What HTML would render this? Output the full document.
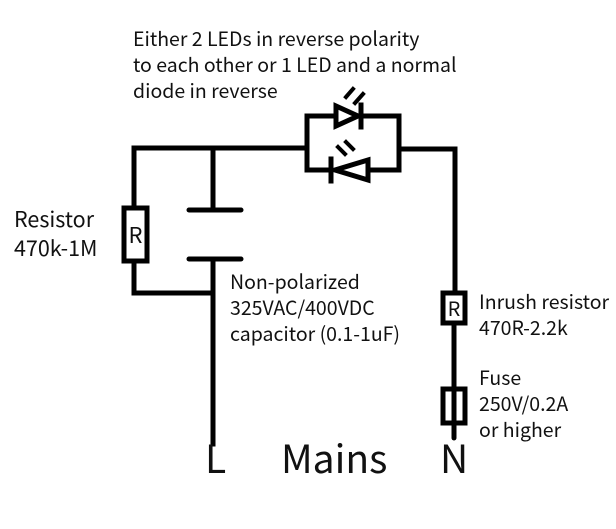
<!DOCTYPE html>
<html><head><meta charset="utf-8"><style>
html,body{margin:0;padding:0;background:#fff;width:616px;height:529px;overflow:hidden}
svg{display:block}
text{font-family:"Noto Sans CJK SC","Liberation Sans",sans-serif;fill:#111}
</style></head><body>
<svg width="616" height="529" viewBox="0 0 616 529">
<g fill="none" stroke="#000" stroke-width="5" stroke-linecap="square">
<polyline points="307,148 134,148 134,208"/>
<polyline points="134,261 134,293 213,293"/>
<rect x="124" y="208" width="23" height="53" fill="#fff"/>
<line x1="213" y1="148" x2="213" y2="210"/>
<line x1="189" y1="210" x2="241" y2="210" stroke-linecap="round"/>
<line x1="189" y1="259" x2="241" y2="259" stroke-linecap="round"/>
<line x1="213" y1="259" x2="213" y2="444"/>
<polyline points="331,116 307,116 307,170 331,170"/>
<polyline points="362,116 399,116 399,170 368,170"/>
<polyline points="399,149 455,149 455,293"/>
<polygon points="336,106 336,126 358,116" fill="#fff"/>
<line x1="361" y1="105" x2="361" y2="127"/>
<polygon points="368,160 368,180 335,170" fill="#fff"/>
<line x1="331" y1="159" x2="331" y2="181"/>
<line x1="346" y1="97" x2="353" y2="89" stroke-width="4"/>
<line x1="355" y1="103" x2="363" y2="94" stroke-width="4"/>
<line x1="338" y1="147" x2="345" y2="154" stroke-width="4"/>
<line x1="346" y1="142" x2="353" y2="149" stroke-width="4"/>
<rect x="443" y="293" width="22" height="30" fill="#fff"/>
<line x1="454" y1="323" x2="454" y2="389"/>
<rect x="443" y="389" width="22" height="34" fill="#fff"/>
<line x1="454" y1="389" x2="454" y2="423"/>
<line x1="454" y1="423" x2="454" y2="438" stroke-linecap="round"/>
</g>
<text x="135.5" y="243" font-size="22" text-anchor="middle">R</text>
<text x="454" y="316" font-size="20" text-anchor="middle">R</text>
<g font-size="19.5">
<text x="133" y="46">Either 2 LEDs in reverse polarity</text>
<text x="133" y="72">to each other or 1 LED and a normal</text>
<text x="133" y="98">diode in reverse</text>
<text x="230" y="289">Non-polarized</text>
<text x="230" y="315">325VAC/400VDC</text>
<text x="230" y="341">capacitor (0.1-1uF)</text>
<text x="479" y="309">Inrush resistor</text>
<text x="479" y="335">470R-2.2k</text>
<text x="479" y="385">Fuse</text>
<text x="479" y="411">250V/0.2A</text>
<text x="479" y="437">or higher</text>
</g>
<text x="14" y="227" font-size="21.5">Resistor</text>
<text x="14" y="256" font-size="21.5">470k-1M</text>
<g font-size="39">
<text x="205" y="473">L</text>
<text x="281" y="473">Mains</text>
<text x="440" y="473">N</text>
</g>
</svg>
</body></html>
